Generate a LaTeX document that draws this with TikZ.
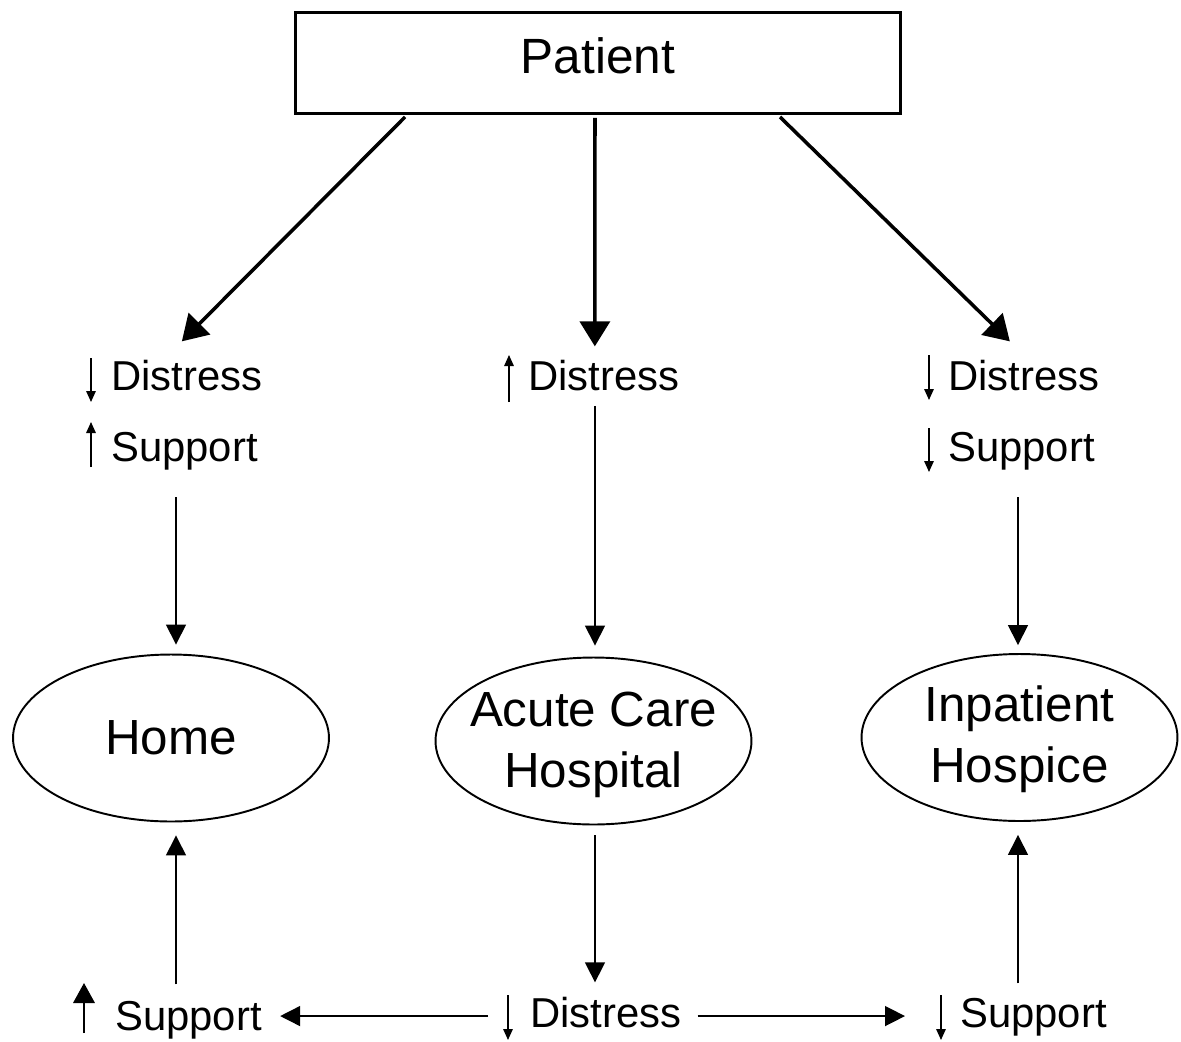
\documentclass[tikz,border=0pt]{standalone}
\usepackage{fontspec}
\setmainfont{Liberation Sans}
\usetikzlibrary{arrows.meta,calc,shapes.geometric}
\begin{document}
\begin{tikzpicture}[x=0.02cm,y=-0.02cm,
  box/.style={draw, line width=1.7pt, minimum width=12.1cm, minimum height=2.02cm, inner sep=0pt, text depth=0.3cm, font=\fontsize{28.2}{34}\selectfont},
  ell/.style={draw, ellipse, line width=1.1pt, minimum width=6.32cm, minimum height=3.34cm, inner sep=0pt},
  elltext/.style={align=center, inner sep=0pt, font=\fontsize{28.1}{34.6}\selectfont},
  lab/.style={anchor=base west, inner sep=0pt, font=\fontsize{23.8}{28}\selectfont},
  big/.style={line width=2pt, -{Triangle[length=0.5cm,width=0.6cm]}},
  arr/.style={line width=0.85pt, -{Triangle[length=0.4cm,width=0.4cm]}},
  tiny/.style={line width=0.85pt, -{Triangle[length=0.22cm,width=0.19cm]}},
  tinybold/.style={line width=1.1pt, -{Triangle[length=0.4cm,width=0.43cm]}},
]
\useasboundingbox (0,0) rectangle (1181,1042);

\node[box] (patient) at (598,63) {Patient};
\node[ell] (home) at (171,738) {};
\node[elltext] (homet) at (home.center) {Home};
\node[ell] (acute) at (593.5,741) {};
\node[elltext] (acutet) at ($(acute.center)+(0,4)$) {Acute Care\\Hospital};
\node[ell] (hospice) at (1019.5,737.5) {};
\node[elltext] (hospicet) at ($(hospice.center)+(0,2)$) {Inpatient\\Hospice};

\node[lab] (tld) at (111,390) {Distress};
\node[lab] (tls) at (111,461) {Support};
\node[lab] (tmd) at (528,390) {Distress};
\node[lab] (trd) at (948,390) {Distress};
\node[lab] (trs) at (948,461) {Support};
\node[lab] (bls) at (115,1030) {Support};
\node[lab] (bmd) at (530,1027) {Distress};
\node[lab] (brs) at (960,1027) {Support};

% small trend arrows
\draw[tiny] ($(tld.base west)+(-20,-32)$) -- ($(tld.base west)+(-20,12)$);
\draw[tiny] ($(tls.base west)+(-20,6)$) -- ($(tls.base west)+(-20,-39)$);
\draw[tiny] ($(tmd.base west)+(-19,12)$) -- ($(tmd.base west)+(-19,-35)$);
\draw[tiny] ($(trd.base west)+(-19,-35)$) -- ($(trd.base west)+(-19,10)$);
\draw[tiny] ($(trs.base west)+(-19,-33)$) -- ($(trs.base west)+(-19,11)$);
\draw[tinybold] ($(bls.base west)+(-31,3)$) -- ($(bls.base west)+(-31,-47)$);
\draw[tiny] ($(bmd.base west)+(-22,-32)$) -- ($(bmd.base west)+(-22,13)$);
\draw[tiny] ($(brs.base west)+(-19,-32)$) -- ($(brs.base west)+(-19,13)$);

% from patient
\draw[big] ($(patient.south)+(-193,2)$) -- ($(tld.north)+(-5,-18)$);
\draw[big] ($(patient.south)+(-3,3)$) -- ($(tmd.north)+(-9,-13)$);
\draw[big] ($(patient.south)+(182,2)$) -- ($(trd.north)+(-14,-18)$);

% to settings
\draw[arr] ($(home.north |- tls.south)+(5,27)$) -- ($(home.north)+(5,-9)$);
\draw[arr] ($(acute.north |- tmd.south)+(1.5,15)$) -- ($(acute.north)+(1.5,-11)$);
\draw[arr] ($(hospice.north |- trs.south)+(-1.5,27)$) -- ($(hospice.north)+(-1.5,-8)$);

% lower part
\draw[arr] ($(acute.south)+(1.5,10)$) -- ($(acute.south |- bmd.north)+(1.5,-14)$);
\draw[arr] ($(home.south |- bls.north)+(5,-16)$) -- ($(home.south)+(5,13)$);
\draw[arr] ($(hospice.south |- brs.north)+(-1.5,-14)$) -- ($(hospice.south)+(-1.5,13)$);
\draw[arr] ($(bmd.west)+(-42,4)$) -- ($(bmd.west -| bls.east)+(18,4)$);
\draw[arr] ($(bmd.east)+(16,4)$) -- ($(bmd.east -| brs.west)+(-55,4)$);
\end{tikzpicture}
\end{document}
